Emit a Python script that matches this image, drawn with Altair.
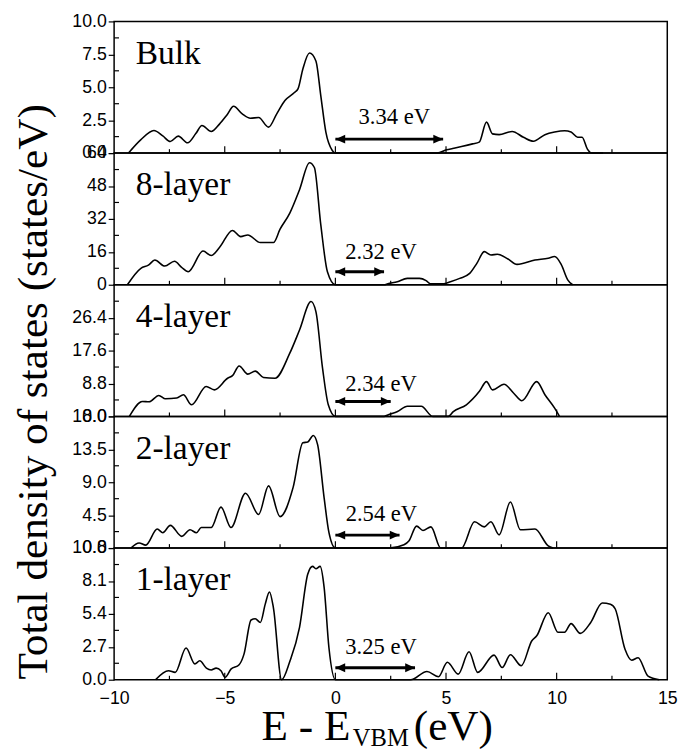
import altair as alt
import pandas as pd

# ---------------- data ----------------
panel_names = ["Bulk", "8-layer", "4-layer", "2-layer", "1-layer"]
y_max = [10.0, 64.0, 35.2, 18.0, 10.8]
y_major = [
    [0.0, 2.5, 5.0, 7.5, 10.0],
    [0, 16, 32, 48, 64],
    [0.0, 8.8, 17.6, 26.4],
    [0.0, 4.5, 9.0, 13.5, 18.0],
    [0.0, 2.7, 5.4, 8.1, 10.8],
]
y_minor = [
    [1.25, 3.75, 6.25, 8.75],
    [8, 24, 40, 56],
    [4.4, 13.2, 22.0, 30.8],
    [2.25, 6.75, 11.25, 15.75],
    [1.35, 4.05, 6.75, 9.45],
]
y_format = [".1f", "d", ".1f", ".1f", ".1f"]

x_major = [-5, 0, 5, 10]
x_minor = [-7.5, -2.5, 2.5, 7.5, 12.5]
x_labels = [-10, -5, 0, 5, 10, 15]

bulk_E = [-9.35, -8.8, -8.2, -7.8, -7.46, -7.1, -6.68, -6.3, -6.03, -5.61, -5.24, -4.9, -4.6,
          -4.21, -3.84, -3.47, -3.02, -2.65, -2.28, -1.85, -1.69, -1.47, -1.17, -0.88, -0.66,
          -0.43, -0.14, 0.0, 3.7, 4.6, 5.03, 5.3, 5.7, 6.2, 6.5, 6.83, 7.1, 7.4, 7.99, 8.5,
          8.95, 9.47, 9.91, 10.36, 10.65, 10.95, 11.15, 11.39, 11.6, 12.1]
bulk_D = [0, 1.0, 1.72, 1.3, 0.88, 1.29, 0.78, 1.5, 2.1, 1.64, 2.2, 2.9, 3.56,
          2.98, 2.65, 2.7, 1.97, 2.98, 3.99, 4.6, 4.87, 6.39, 7.6, 7.0, 4.37,
          1.59, 0.2, 0, 0, 0, 0.25, 0.35, 0.5, 0.7, 0.83, 2.35, 1.46, 1.4, 1.64, 1.2,
          0.9, 1.4, 1.6, 1.7, 1.6, 1.2, 1.2, 0.3, 0, 0]

l8_E = [-9.4, -8.79, -8.45, -8.16, -7.71, -7.27, -6.95, -6.65, -5.98, -5.61, -5.24, -4.65,
        -4.28, -3.96, -3.39, -2.8, -2.5, -2.06, -1.62, -1.17, -0.95, -0.66, -0.36, 0.0,
        2.2, 2.37, 2.8, 3.25, 3.8, 4.1, 4.29, 4.88, 5.2, 5.62, 6.07, 6.4, 6.73, 7.03, 7.32,
        7.8, 8.21, 9.02, 9.62, 9.91, 10.21, 10.5, 10.72]
l8_D = [0, 8.0, 9.5, 12.0, 9.1, 11.4, 8.5, 6.35, 16.4, 14.2, 18.1, 26.4,
        23.4, 24.2, 20.5, 20.5, 27.0, 34.8, 46.2, 59.3, 57.0, 29.2, 6.3, 0,
        0, 0.5, 1.5, 3.1, 3.1, 2.0, 0.5, 0.5, 1.5, 3.1, 5.5, 10.5, 16.1, 14.5, 14.8,
        12.5, 9.9, 12.0, 12.9, 13.7, 9.8, 2.4, 0]

l4_E = [-9.31, -8.72, -8.42, -7.98, -7.68, -7.17, -6.87, -6.5, -5.84, -5.47, -4.87, -4.65,
        -4.35, -3.96, -3.62, -3.25, -2.73, -2.06, -1.62, -1.1, -0.88, -0.58, -0.32, 0.0,
        2.2, 2.37, 2.81, 3.25, 3.88, 4.4, 5.1, 5.33, 5.92, 6.51, 6.83, 7.1, 7.62, 8.06,
        8.43, 9.1, 9.47, 9.91, 10.13]
l4_D = [0, 4.0, 3.9, 5.6, 4.7, 4.9, 5.8, 3.1, 8.0, 7.1, 10.2, 10.9,
        13.5, 11.3, 12.1, 10.4, 10.2, 16.9, 23.1, 30.7, 28.0, 12.9, 3.1, 0,
        0, 0.4, 1.3, 2.7, 2.7, 0, 0, 1.3, 3.1, 6.7, 9.3, 7.1, 8.6, 6.2,
        4.2, 9.3, 5.8, 2.2, 0]

l2_E = [-9.24, -8.87, -8.57, -8.05, -7.8, -7.46, -6.94, -6.57, -6.28, -6.06, -5.61, -5.17,
        -4.72, -4.06, -3.47, -3.02, -2.5, -1.91, -1.47, -1.25, -1.0, -0.8, -0.51, -0.29,
        0.0, 2.44, 3.1, 3.33, 3.67, 3.96, 4.32, 4.76, 5.7, 6.29, 6.73, 7.03, 7.4, 7.91,
        8.36, 9.02, 9.62, 9.84]
l2_D = [0, 0.7, 0.4, 2.6, 2.1, 3.1, 1.6, 2.5, 2.1, 2.8, 2.8, 5.6,
        2.8, 7.5, 4.6, 8.5, 4.3, 8.3, 14.4, 14.5, 15.4, 14.1, 6.9, 2.1,
        0, 0, 0.45, 1.0, 3.0, 2.4, 2.9, 0, 0, 3.6, 2.9, 3.6, 1.8, 6.3,
        2.5, 2.6, 0.3, 0]

l1_E = [-8.13, -7.54, -7.24, -6.75, -6.35, -6.13, -5.83, -5.61, -5.39, -5.17, -4.98, -4.72,
        -4.35, -4.13, -3.81, -3.62, -3.39, -3.17, -2.98, -2.8, -2.43, -2.06, -1.62, -1.25,
        -1.03, -0.88, -0.69, -0.51, -0.29, 0.0, 3.4, 4.14, 4.66, 5.06, 5.55, 6.04, 6.43,
        7.17, 7.54, 7.91, 8.4, 8.88, 9.1, 9.62, 10.06, 10.36, 10.65, 11.07, 11.54, 12.06,
        12.43, 12.65, 13.09, 13.39, 13.68, 14.13, 14.64]
l1_D = [0, 0.74, 0.6, 2.6, 1.3, 1.55, 0.95, 0.8, 0.95, 0.74, 0.2, 0.87,
        1.23, 2.1, 4.9, 5.0, 4.7, 6.2, 7.2, 5.9, 0, 1.5, 4.3, 8.65,
        9.3, 9.1, 9.3, 7.6, 2.6, 0, 0, 0.68, 0.25, 1.43, 0.46, 2.3, 0.6,
        2.02, 1.0, 2.05, 1.15, 3.2, 3.6, 5.5, 3.9, 3.9, 4.6, 3.8, 4.7, 6.3,
        6.2, 5.8, 2.5, 1.6, 1.8, 0.3, 0]

energies = [bulk_E, l8_E, l4_E, l2_E, l1_E]
dos = [bulk_D, l8_D, l4_D, l2_D, l1_D]

gap_labels = ["3.34 eV", "2.32 eV", "2.34 eV", "2.54 eV", "3.25 eV"]
arrow_end = [4.87, 2.2, 2.5, 2.9, 3.6]
arrow_y = [1.06, 6.3, 4.0, 1.77, 0.98]
gap_text_x = [2.66, 2.06, 2.06, 2.08, 2.06]
gap_text_y = [2.2, 12.6, 6.9, 3.7, 2.1]

W, H = 563, 134
SERIF = "Liberation Serif"
SANS = "Liberation Sans"
TICK_FS = 18


def xenc(field, last):
    if last:
        ax = alt.Axis(values=x_labels, ticks=False, domain=False, grid=False,
                      labelFontSize=TICK_FS, labelFont=SANS, labelColor="black",
                      labelPadding=10, labelFlush=False, title=None)
    else:
        ax = None
    return alt.X(f"{field}:Q", scale=alt.Scale(domain=[-10, 15], nice=False, zero=False),
                 axis=ax, title=None)


def yenc(field, i):
    ax = alt.Axis(values=y_major[i], format=y_format[i], tickSize=6, tickWidth=1.2,
                  tickColor="black", domain=False, grid=False, labelFontSize=TICK_FS,
                  labelFont=SANS, labelColor="black", labelPadding=2, title=None)
    return alt.Y(f"{field}:Q", scale=alt.Scale(domain=[0, y_max[i]], nice=False, zero=True),
                 axis=ax, title=None)


panels = []
for i, name in enumerate(panel_names):
    last = i == len(panel_names) - 1
    df = pd.DataFrame({"E": energies[i], "DOS": dos[i]})
    line = alt.Chart(df).mark_line(color="black", strokeWidth=1.6, interpolate="monotone").encode(
        x=xenc("E", last), y=yenc("DOS", i))

    # inward minor y ticks
    ymin_df = pd.DataFrame({"v": y_minor[i]})
    yminor = alt.Chart(ymin_df).mark_rule(color="black", strokeWidth=1.2).encode(
        y=yenc("v", i), x=alt.value(0), x2=alt.value(5))

    # inward x ticks at bottom
    xmaj = alt.Chart(pd.DataFrame({"v": x_major})).mark_rule(color="black", strokeWidth=1.2).encode(
        x=xenc("v", last), y=alt.value(H), y2=alt.value(H - 7))
    xmin = alt.Chart(pd.DataFrame({"v": x_minor})).mark_rule(color="black", strokeWidth=1.2).encode(
        x=xenc("v", last), y=alt.value(H), y2=alt.value(H - 4))

    # gap arrow
    arr_df = pd.DataFrame({"x0": [0.0], "x1": [arrow_end[i]], "ya": [arrow_y[i]]})
    shaft = alt.Chart(arr_df).mark_rule(color="black", strokeWidth=3).encode(
        x=xenc("x0", last), x2="x1:Q", y=yenc("ya", i))
    head_l = alt.Chart(arr_df).mark_point(
        shape="M 0 0 L 2 -0.9 L 2 0.9 Z", filled=True, color="black", opacity=1, size=100,
        strokeWidth=0).encode(x=xenc("x0", last), y=yenc("ya", i))
    head_r = alt.Chart(arr_df).mark_point(
        shape="M 0 0 L -2 -0.9 L -2 0.9 Z", filled=True, color="black", opacity=1, size=100,
        strokeWidth=0).encode(x=xenc("x1", last), y=yenc("ya", i))

    txt_df = pd.DataFrame({"tx": [gap_text_x[i]], "ty": [gap_text_y[i]], "t": [gap_labels[i]]})
    gap_txt = alt.Chart(txt_df).mark_text(font=SERIF, fontSize=23, color="black",
                                          align="center", baseline="alphabetic").encode(
        x=xenc("tx", last), y=yenc("ty", i), text="t:N")

    name_txt = alt.Chart(pd.DataFrame({"n": [name]})).mark_text(
        font=SERIF, fontSize=34, color="black", align="left", baseline="alphabetic").encode(
        x=alt.value(22), y=alt.value(43), text="n:N")

    layers = [line, yminor, xmaj, xmin, shaft, head_l, head_r, gap_txt, name_txt]

    if i == 2:
        ytitle = alt.Chart(pd.DataFrame({"t": ["Total density of states (states/eV)"]})).mark_text(
            font=SERIF, fontSize=44, color="black", angle=270, align="center",
            baseline="middle").encode(x=alt.value(-81), y=alt.value(109), text="t:N")
        layers.append(ytitle)

    if last:
        t1 = alt.Chart(pd.DataFrame({"t": ["E - E"]})).mark_text(
            font=SERIF, fontSize=44, color="black", align="left", baseline="alphabetic").encode(
            x=alt.value(150), y=alt.value(195), text="t:N")
        t2 = alt.Chart(pd.DataFrame({"t": ["VBM"]})).mark_text(
            font=SERIF, fontSize=25, color="black", align="left", baseline="alphabetic").encode(
            x=alt.value(243), y=alt.value(201), text="t:N")
        t3 = alt.Chart(pd.DataFrame({"t": ["(eV)"]})).mark_text(
            font=SERIF, fontSize=44, color="black", align="left", baseline="alphabetic").encode(
            x=alt.value(305), y=alt.value(195), text="t:N")
        layers += [t1, t2, t3]

    panels.append(alt.layer(*layers).properties(width=W, height=H))

chart = alt.vconcat(*panels, spacing=0, bounds="flush").properties(
    padding={"left": 4, "top": -3, "right": 5, "bottom": 0},
    background="white",
).configure_view(stroke="black", strokeWidth=1.5)

chart.save("out.html", embed_options={"renderer": "svg", "actions": False})
